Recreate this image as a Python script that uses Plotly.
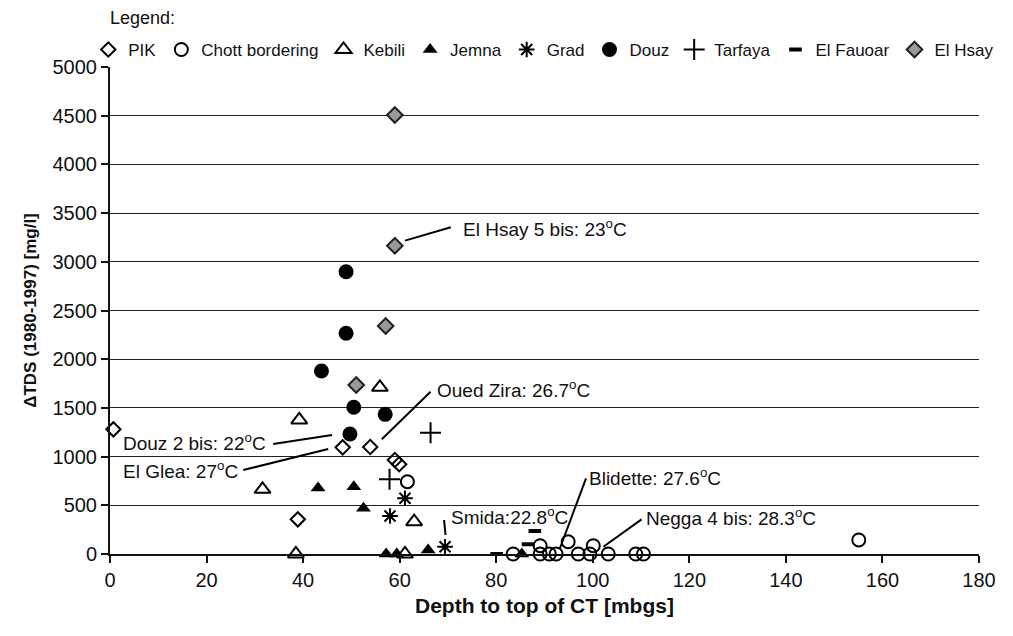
import plotly.graph_objects as go

# ---------------- data ----------------
pik_x = [0.7, 38.9, 48.2, 53.9, 59.0, 59.9]
pik_y = [1280, 356, 1095, 1099, 965, 921]

chott_x = [61.6, 83.5, 89.1, 89.1, 91.0, 92.4, 94.9, 97.0, 99.4, 100.1, 103.2, 108.9, 110.5, 155.1]
chott_y = [742, 0, 85, 0, 0, 0, 126, 0, 0, 85, 0, 0, 0, 144]

kebili_x = [39.2, 31.6, 38.5, 55.9, 63.0, 61.1]
kebili_y = [1376, 664, 0, 1711, 332, 0]

jemna_x = [43.1, 50.5, 52.5, 57.2, 59.4, 65.9, 85.3]
jemna_y = [677, 691, 469, 0, 0, 41, 0]

grad_x = [61.1, 58.0, 69.4]
grad_y = [572, 390, 75]

douz_x = [48.9, 48.9, 43.8, 50.5, 57.0, 49.7]
douz_y = [2898, 2266, 1879, 1506, 1434, 1232]

tarfaya_x = [66.4, 57.9]
tarfaya_y = [1245, 767]

fauoar_x = [88.0, 86.6, 80.1]
fauoar_y = [236, 100, 0]

hsay_x = [59.0, 59.0, 57.1, 51.0]
hsay_y = [4507, 3165, 2341, 1735]

# annotations: label, text x, text y, anchor, leader line (x0, y0, x1, y1)
ann_text = ["El Hsay 5 bis: 23<sup>o</sup>C", "Oued Zira: 26.7<sup>o</sup>C",
            "Douz 2 bis: 22<sup>o</sup>C", "El Glea: 27<sup>o</sup>C",
            "Smida:22.8<sup>o</sup>C", "Blidette: 27.6<sup>o</sup>C",
            "Negga 4 bis: 28.3<sup>o</sup>C"]
ann_x = [72.6, 67.3, 32.7, 26.9, 70.2, 98.9, 110.6]
ann_y = [3347, 1694, 1153, 862, 390, 794, 383]
ann_anchor = ["left", "left", "right", "right", "left", "left", "left"]
line_x0 = [61.1, 56.3, 33.8, 27.6, 69.2, 98.6, 110.1]
line_y0 = [3217, 1178, 1129, 862, 349, 777, 356]
line_x1 = [70.6, 66.4, 46.0, 45.2, 69.5, 93.2, 102.2]
line_y1 = [3354, 1666, 1222, 1078, 195, 59, 75]

x_ticks = [0, 20, 40, 60, 80, 100, 120, 140, 160, 180]
y_ticks = [0, 500, 1000, 1500, 2000, 2500, 3000, 3500, 4000, 4500, 5000]

FONT = "Liberation Sans, Arial, Helvetica, sans-serif"

fig = go.Figure()

def add(name, xs, ys, symbol, size, color="black", lw=2, lcolor="black"):
    fig.add_trace(go.Scatter(
        x=xs, y=ys, mode="markers", name=name, cliponaxis=False,
        marker=dict(symbol=symbol, size=size, color=color,
                    line=dict(width=lw, color=lcolor)),
    ))

add("PIK", pik_x, pik_y, "diamond-open", 11)
add("Chott bordering", chott_x, chott_y, "circle-open", 13)
add("Kebili", kebili_x, kebili_y, "triangle-up-open", 14)
add("Jemna", jemna_x, jemna_y, "triangle-up", 13, lw=0)
add("Grad", grad_x, grad_y, "asterisk-open", 13)
add("Douz", douz_x, douz_y, "circle", 15, lw=0)
add("Tarfaya", tarfaya_x, tarfaya_y, "cross-thin-open", 15)
add("El Fauoar", fauoar_x, fauoar_y, "line-ew-open", 9, lw=4)
add("El Hsay", hsay_x, hsay_y, "diamond", 12, color="#9a9a9a", lw=2, lcolor="#222")

for i in range(len(ann_text)):
    fig.add_shape(type="line", xref="x", yref="y",
                  x0=line_x0[i], y0=line_y0[i], x1=line_x1[i], y1=line_y1[i],
                  line=dict(color="black", width=2))
    fig.add_annotation(x=ann_x[i], y=ann_y[i], text=ann_text[i], showarrow=False,
                       xanchor=ann_anchor[i], yanchor="middle", xref="x", yref="y",
                       font=dict(family=FONT, size=19, color="#111"))

fig.add_annotation(text="Legend:", xref="paper", yref="paper", x=-0.002, y=1.10,
                   xanchor="left", yanchor="middle", showarrow=False,
                   font=dict(family=FONT, size=18, color="#111"))

# x-axis title placed as paper annotation
fig.add_annotation(text="<b>Depth to top of CT [mbgs]</b>", xref="paper", yref="paper",
                   x=0.5, y=-0.105, xanchor="center", yanchor="middle", showarrow=False,
                   font=dict(family=FONT, size=21, color="#111"))

fig.update_layout(
    width=1013, height=636,
    margin=dict(l=102, r=42, t=59, b=90, autoexpand=False),
    paper_bgcolor="white", plot_bgcolor="white",
    font=dict(family=FONT, size=19, color="#111"),
    showlegend=True,
    legend=dict(orientation="h", x=-0.025, xanchor="left", y=1.072, yanchor="top",
                font=dict(family=FONT, size=17, color="#111"),
                bgcolor="rgba(0,0,0,0)", itemwidth=30, tracegroupgap=0),
    xaxis=dict(range=[0, 180], tickvals=x_ticks, ticks="outside", ticklen=7, tickwidth=2,
               tickcolor="#111", showline=True, linecolor="#111", linewidth=2,
               showgrid=False, zeroline=False, automargin=False,
               tickfont=dict(family=FONT, size=20, color="#111")),
    yaxis=dict(range=[0, 5000], tickvals=y_ticks, ticks="outside", ticklen=7, tickwidth=2,
               tickcolor="#111", showline=True, linecolor="#111", linewidth=2,
               showgrid=True, gridcolor="#222", gridwidth=1, zeroline=False, automargin=False,
               tickfont=dict(family=FONT, size=20, color="#111"),
               title=dict(text="<b>\u0394TDS (1980-1997) [mg/l]</b>", standoff=12,
                          font=dict(family=FONT, size=17, color="#111"))),
)

fig.write_html("out.html")
